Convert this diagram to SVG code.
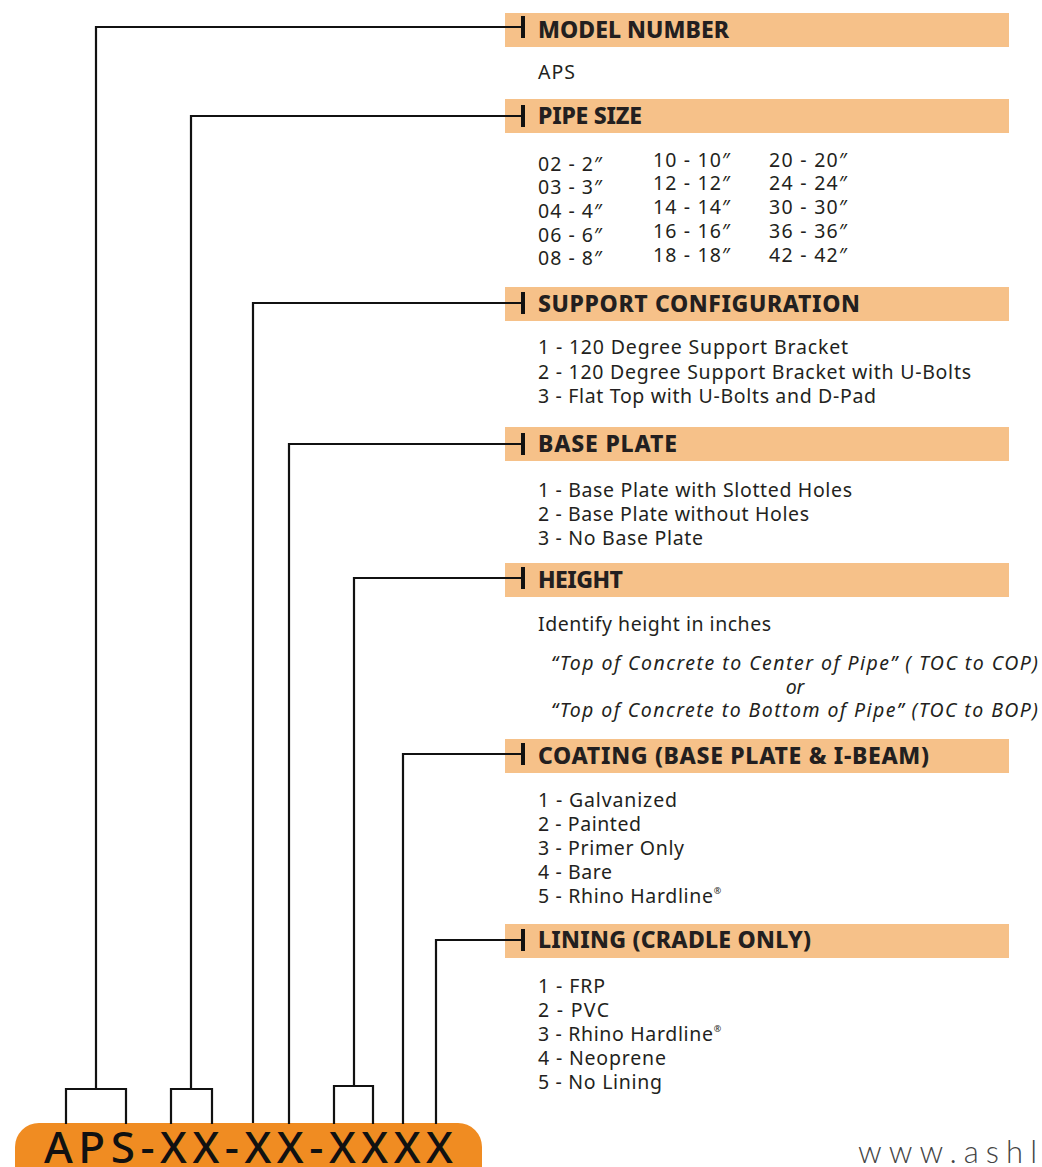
<svg xmlns="http://www.w3.org/2000/svg" width="1042" height="1167" viewBox="0 0 1042 1167">
<style>
.bar{fill:#F6C189}
.hd{font-family:"Noto Sans",Lato,sans-serif;font-weight:800;font-size:23px;fill:#231F20}
.tx{font-family:"Noto Sans",Lato,sans-serif;font-size:19.5px;fill:#231F20}
.it{font-family:"Noto Sans",Lato,sans-serif;font-style:italic;font-size:19.5px;fill:#231F20}
.ln{fill:none;stroke:#111;stroke-width:2.2}
.tk{fill:none;stroke:#111;stroke-width:4}
</style>
<rect width="1042" height="1167" fill="#fff"/>
<g id="model-number">
<rect class="bar" x="505" y="13" width="504" height="34"/>
<text class="hd" x="538" y="38" textLength="191">MODEL NUMBER</text>
<text class="tx" x="538" y="79" textLength="37">APS</text>
</g>
<g id="pipe-size">
<rect class="bar" x="505" y="99" width="504" height="34"/>
<text class="hd" x="538" y="124" textLength="104">PIPE SIZE</text>
<g class="tx">
<text x="538" y="171" textLength="64">02 - 2″</text>
<text x="538" y="194" textLength="64">03 - 3″</text>
<text x="538" y="218" textLength="64">04 - 4″</text>
<text x="538" y="242" textLength="64">06 - 6″</text>
<text x="538" y="265" textLength="64">08 - 8″</text>
<text x="653" y="167" textLength="77">10 - 10″</text>
<text x="653" y="190" textLength="77">12 - 12″</text>
<text x="653" y="214" textLength="77">14 - 14″</text>
<text x="653" y="238" textLength="77">16 - 16″</text>
<text x="653" y="262" textLength="77">18 - 18″</text>
<text x="769" y="167" textLength="78">20 - 20″</text>
<text x="769" y="190" textLength="78">24 - 24″</text>
<text x="769" y="214" textLength="78">30 - 30″</text>
<text x="769" y="238" textLength="78">36 - 36″</text>
<text x="769" y="262" textLength="78">42 - 42″</text>
</g>
</g>
<g id="support-configuration">
<rect class="bar" x="505" y="287" width="504" height="34"/>
<text class="hd" x="538" y="312" textLength="322">SUPPORT CONFIGURATION</text>
<text class="tx" x="538" y="354" textLength="310">1 - 120 Degree Support Bracket</text>
<text class="tx" x="538" y="379" textLength="433">2 - 120 Degree Support Bracket with U-Bolts</text>
<text class="tx" x="538" y="403" textLength="338">3 - Flat Top with U-Bolts and D-Pad</text>
</g>
<g id="base-plate">
<rect class="bar" x="505" y="427" width="504" height="34"/>
<text class="hd" x="538" y="452" textLength="139">BASE PLATE</text>
<text class="tx" x="538" y="497" textLength="314">1 - Base Plate with Slotted Holes</text>
<text class="tx" x="538" y="521" textLength="271">2 - Base Plate without Holes</text>
<text class="tx" x="538" y="545" textLength="165">3 - No Base Plate</text>
</g>
<g id="height">
<rect class="bar" x="505" y="563" width="504" height="34"/>
<text class="hd" x="538" y="588" textLength="85">HEIGHT</text>
<text class="tx" x="538" y="631" textLength="233">Identify height in inches</text>
<text class="it" x="551" y="670" textLength="487">“Top of Concrete to Center of Pipe” ( TOC to COP)</text>
<text class="it" x="795" y="694" text-anchor="middle">or</text>
<text class="it" x="551" y="717" textLength="487">“Top of Concrete to Bottom of Pipe” (TOC to BOP)</text>
</g>
<g id="coating">
<rect class="bar" x="505" y="739" width="504" height="34"/>
<text class="hd" x="538" y="764" textLength="391">COATING (BASE PLATE &amp; I-BEAM)</text>
<text class="tx" x="538" y="807" textLength="139">1 - Galvanized</text>
<text class="tx" x="538" y="831" textLength="103">2 - Painted</text>
<text class="tx" x="538" y="855" textLength="146">3 - Primer Only</text>
<text class="tx" x="538" y="879" textLength="74">4 - Bare</text>
<text class="tx" x="538" y="903"><tspan textLength="175">5 - Rhino Hardline</tspan><tspan font-size="9" dy="-9">®</tspan></text>
</g>
<g id="lining">
<rect class="bar" x="505" y="924" width="504" height="34"/>
<text class="hd" x="538" y="948" textLength="273">LINING (CRADLE ONLY)</text>
<text class="tx" x="538" y="993" textLength="67">1 - FRP</text>
<text class="tx" x="538" y="1017" textLength="71">2 - PVC</text>
<text class="tx" x="538" y="1041"><tspan textLength="175">3 - Rhino Hardline</tspan><tspan font-size="9" dy="-9">®</tspan></text>
<text class="tx" x="538" y="1065" textLength="128">4 - Neoprene</text>
<text class="tx" x="538" y="1089" textLength="124">5 - No Lining</text>
</g>
<g id="model-code">
<rect x="15" y="1123" width="467" height="70" rx="24" fill="#F08C22"/>
<text x="44" y="1163" font-family="'Noto Sans','Liberation Sans',Arial,sans-serif" font-weight="500" font-size="44" fill="#111" textLength="409">APS-XX-XX-XXXX</text>
</g>
<text id="website" x="858" y="1163" font-family="Lato,'Noto Sans',sans-serif" font-weight="300" font-size="31" fill="#444" textLength="179">www.ashl</text>
<g id="connectors">
<path class="ln" d="M66,1124V1089H126V1124M96,1089V27H523"/>
<path class="ln" d="M171,1124V1089H212V1124M191,1089V116H523"/>
<path class="ln" d="M253,1123V303H523"/>
<path class="ln" d="M289,1124V444H523"/>
<path class="ln" d="M334,1124V1086H373V1124M354,1086V578H523"/>
<path class="ln" d="M403,1124V754H523"/>
<path class="ln" d="M436,1124V940H523"/>
<line class="tk" x1="523" y1="16" x2="523" y2="38"/>
<line class="tk" x1="523" y1="105" x2="523" y2="127"/>
<line class="tk" x1="523" y1="292" x2="523" y2="314"/>
<line class="tk" x1="523" y1="433" x2="523" y2="455"/>
<line class="tk" x1="523" y1="567" x2="523" y2="589"/>
<line class="tk" x1="523" y1="743" x2="523" y2="765"/>
<line class="tk" x1="523" y1="929" x2="523" y2="951"/>
</g>
</svg>
